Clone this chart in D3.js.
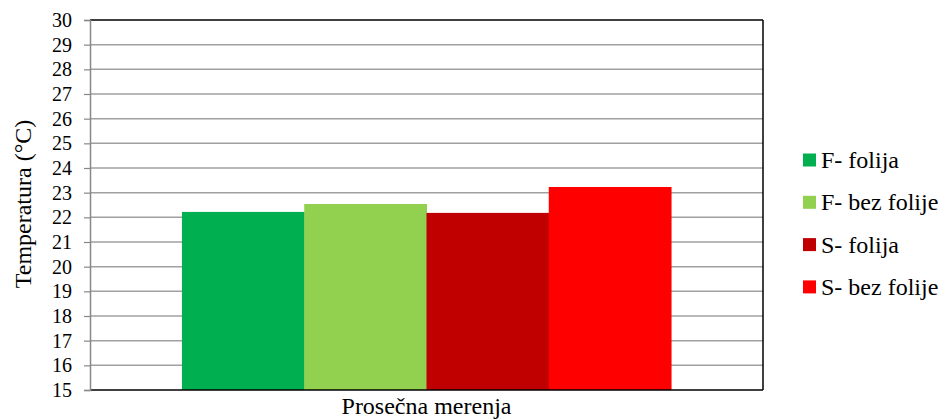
<!DOCTYPE html>
<html><head><meta charset="utf-8"><script src="https://cdn.jsdelivr.net/npm/d3@7"></script></head>
<body><svg id="chart" width="939" height="419"></svg>
<script>
// Average temperature per measurement group
const categories = ["Prosečna merenja"];
const seriesNames = ["F- folija", "F- bez folije", "S- folija", "S- bez folije"];
const seriesValues = [22.22, 22.54, 22.18, 23.23];
const seriesColors = ["#00b050", "#92d050", "#c00000", "#ff0000"];
const yTicks = d3.range(15, 31, 1);

const FONT = '"Liberation Serif"';

d3.select("body").style("margin", "0px").style("background", "#fff");
const svg = d3.select("#chart").style("display", "block");
const margin = { left: 90, top: 20, right: 176, bottom: 29 };
const width = 939 - margin.left - margin.right;
const height = 419 - margin.top - margin.bottom;

const g = svg.append("g").attr("transform", `translate(${margin.left},${margin.top})`);

const y = d3.scaleLinear().domain([15, 30]).range([height, 0]);
const x0 = d3.scaleBand().domain(categories).range([0, width]).paddingInner(0).paddingOuter(0.188);
const x1 = d3.scaleBand().domain(seriesNames).range([0, x0.bandwidth()]).padding(0);

// horizontal gridlines
g.append("g")
  .selectAll("line")
  .data(yTicks.filter(t => t > 15 && t < 30))
  .join("line")
  .attr("x1", 0).attr("x2", width)
  .attr("y1", d => y(d)).attr("y2", d => y(d))
  .attr("stroke", "#a0a0a0").attr("stroke-width", 1.5);

// bars
const cat = g.append("g").attr("transform", `translate(${x0(categories[0])},0)`);
cat.selectAll("rect")
  .data(seriesValues.map((v, i) => ({ name: seriesNames[i], value: v, color: seriesColors[i] })))
  .join("rect")
  .attr("x", d => x1(d.name))
  .attr("y", d => y(d.value))
  .attr("width", x1.bandwidth() + 0.5)
  .attr("height", d => y(15) - y(d.value))
  .attr("fill", d => d.color);

// plot frame: top, right and bottom in black
g.append("line").attr("x1", 0).attr("x2", width).attr("y1", 0).attr("y2", 0)
  .attr("stroke", "#000").attr("stroke-width", 1.5);
g.append("line").attr("x1", 0).attr("x2", width).attr("y1", height).attr("y2", height)
  .attr("stroke", "#000").attr("stroke-width", 1.5);
g.append("line").attr("x1", width).attr("x2", width).attr("y1", 0).attr("y2", height)
  .attr("stroke", "#000").attr("stroke-width", 1.5);

// y axis
const yAxis = g.append("g")
  .call(d3.axisLeft(y).tickValues(yTicks).tickSize(6).tickPadding(12).tickFormat(d3.format("d")));
yAxis.attr("font-family", null).attr("font-size", null);
yAxis.select(".domain").attr("stroke", "#888").attr("stroke-width", 1.5);
yAxis.selectAll(".tick line").attr("stroke", "#888").attr("stroke-width", 1.2);
yAxis.selectAll(".tick text")
  .attr("fill", "#000")
  .attr("font-size", 20)
  .style("font-family", FONT);

// y axis title
svg.append("text")
  .attr("transform", `translate(31,${margin.top + height / 2 - 1}) rotate(-90)`)
  .attr("text-anchor", "middle")
  .attr("font-size", 24)
  .style("font-family", FONT)
  .text("Temperatura (°C)");

// x category label
svg.append("text")
  .attr("x", margin.left + x0(categories[0]) + x0.bandwidth() / 2)
  .attr("y", 413.5)
  .attr("text-anchor", "middle")
  .attr("font-size", 24)
  .style("font-family", FONT)
  .text(categories[0]);

// legend
const legend = svg.append("g").attr("transform", "translate(803,160)");
const rows = legend.selectAll("g")
  .data(seriesNames)
  .join("g")
  .attr("transform", (d, i) => `translate(0,${i * 42.3})`);
rows.append("rect")
  .attr("x", 0).attr("y", -6.5).attr("width", 13).attr("height", 13)
  .attr("fill", (d, i) => seriesColors[i]);
rows.append("text")
  .attr("x", 18).attr("y", 0).attr("dy", "0.33em")
  .attr("font-size", 24)
  .style("font-family", FONT)
  .text(d => d);
</script>
</body></html>
